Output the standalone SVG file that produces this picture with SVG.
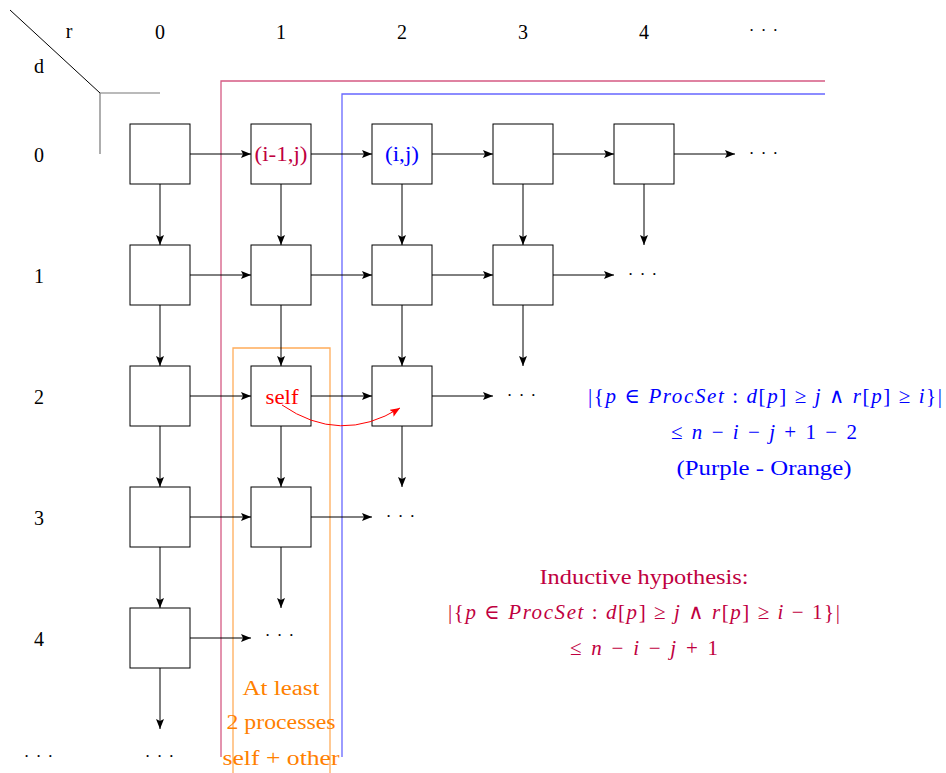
<svg xmlns="http://www.w3.org/2000/svg" width="946" height="773" viewBox="0 0 946 773">
<style>
text{font-family:"Liberation Serif","DejaVu Serif",serif;font-size:20px;text-anchor:middle;dominant-baseline:central;fill:#000}
text.m{font-size:21px}
.box{fill:#fff;stroke:#000;stroke-width:1}
.c{stroke:#000;stroke-width:1;fill:none;marker-end:url(#ah)}
text.dots{font-size:17px;letter-spacing:1px}
text.pur{fill:#BF0040}
text.blu{fill:#0000FF}
text.org{fill:#FF8000}
text.red{fill:#FF0000}
.it{font-style:italic}
</style>
<defs>
<marker id="ah" viewBox="0 0 10 8" refX="10" refY="4" markerWidth="10" markerHeight="8" markerUnits="userSpaceOnUse" orient="auto">
<path d="M0,0 L10,4 L0,8 L2,4 Z" fill="#000"/>
</marker>
<marker id="ahr" viewBox="0 0 10 8" refX="10" refY="4" markerWidth="10" markerHeight="8" markerUnits="userSpaceOnUse" orient="auto">
<path d="M0,0 L10,4 L0,8 L2,4 Z" fill="#FF0000"/>
</marker>
</defs>
<rect width="946" height="773" fill="#fff"/>
<g id="axes">
<line x1="10" y1="10" x2="100" y2="93" stroke="#000" stroke-width="1"/>
<line x1="100" y1="93" x2="160" y2="93" stroke="#777" stroke-width="1.2"/>
<line x1="100" y1="93" x2="100" y2="154" stroke="#777" stroke-width="1.2"/>
<text x="69" y="31">r</text>
<text x="39" y="66">d</text>
<text x="160" y="32">0</text><text x="281" y="32">1</text><text x="402" y="32">2</text><text x="523" y="32">3</text><text x="644" y="32">4</text>
<text class="dots" x="764" y="30">· · ·</text>
<text x="39" y="155">0</text><text x="39" y="276">1</text><text x="39" y="397">2</text><text x="39" y="518">3</text><text x="39" y="639">4</text>
<text class="dots" x="39" y="756">· · ·</text>
</g>
<g id="regions">
<path d="M221,757 V81 H825" fill="none" stroke="#BF0040" stroke-opacity="0.65" stroke-width="1.3"/>
<path d="M342,757 V94 H825" fill="none" stroke="#0000FF" stroke-opacity="0.6" stroke-width="1.3"/>
<path d="M233,773 V348 H330 V773" fill="none" stroke="#FF8000" stroke-opacity="0.65" stroke-width="1.3"/>
</g>
<g id="connectors">
<line class="c" x1="190" y1="154" x2="251" y2="154"/>
<line class="c" x1="311" y1="154" x2="372" y2="154"/>
<line class="c" x1="432" y1="154" x2="493" y2="154"/>
<line class="c" x1="553" y1="154" x2="614" y2="154"/>
<line class="c" x1="674" y1="154" x2="735" y2="154"/>
<line class="c" x1="190" y1="275" x2="251" y2="275"/>
<line class="c" x1="311" y1="275" x2="372" y2="275"/>
<line class="c" x1="432" y1="275" x2="493" y2="275"/>
<line class="c" x1="553" y1="275" x2="614" y2="275"/>
<line class="c" x1="190" y1="396" x2="251" y2="396"/>
<line class="c" x1="311" y1="396" x2="372" y2="396"/>
<line class="c" x1="432" y1="396" x2="493" y2="396"/>
<line class="c" x1="190" y1="517" x2="251" y2="517"/>
<line class="c" x1="311" y1="517" x2="372" y2="517"/>
<line class="c" x1="190" y1="638" x2="251" y2="638"/>
<line class="c" x1="160" y1="184" x2="160" y2="245"/>
<line class="c" x1="160" y1="305" x2="160" y2="366"/>
<line class="c" x1="160" y1="426" x2="160" y2="487"/>
<line class="c" x1="160" y1="547" x2="160" y2="608"/>
<line class="c" x1="160" y1="668" x2="160" y2="729"/>
<line class="c" x1="281" y1="184" x2="281" y2="245"/>
<line class="c" x1="281" y1="305" x2="281" y2="366"/>
<line class="c" x1="281" y1="426" x2="281" y2="487"/>
<line class="c" x1="281" y1="547" x2="281" y2="608"/>
<line class="c" x1="402" y1="184" x2="402" y2="245"/>
<line class="c" x1="402" y1="305" x2="402" y2="366"/>
<line class="c" x1="402" y1="426" x2="402" y2="487"/>
<line class="c" x1="523" y1="184" x2="523" y2="245"/>
<line class="c" x1="523" y1="305" x2="523" y2="366"/>
<line class="c" x1="644" y1="184" x2="644" y2="245"/>
</g>
<g id="n00"><rect class="box" x="130" y="124" width="60" height="60"/></g>
<g id="n10"><rect class="box" x="251" y="124" width="60" height="60"/><text class="pur" x="281" y="154" textLength="53" lengthAdjust="spacingAndGlyphs">(i-1,j)</text></g>
<g id="n20"><rect class="box" x="372" y="124" width="60" height="60"/><text class="blu" x="402" y="154" textLength="34" lengthAdjust="spacingAndGlyphs">(i,j)</text></g>
<g id="n30"><rect class="box" x="493" y="124" width="60" height="60"/></g>
<g id="n40"><rect class="box" x="614" y="124" width="60" height="60"/></g>
<g id="n01"><rect class="box" x="130" y="245" width="60" height="60"/></g>
<g id="n11"><rect class="box" x="251" y="245" width="60" height="60"/></g>
<g id="n21"><rect class="box" x="372" y="245" width="60" height="60"/></g>
<g id="n31"><rect class="box" x="493" y="245" width="60" height="60"/></g>
<g id="n02"><rect class="box" x="130" y="366" width="60" height="60"/></g>
<g id="n12"><rect class="box" x="251" y="366" width="60" height="60"/><text class="red" x="282" y="397" textLength="33" lengthAdjust="spacingAndGlyphs">self</text></g>
<g id="n22"><rect class="box" x="372" y="366" width="60" height="60"/></g>
<g id="n03"><rect class="box" x="130" y="487" width="60" height="60"/></g>
<g id="n13"><rect class="box" x="251" y="487" width="60" height="60"/></g>
<g id="n04"><rect class="box" x="130" y="608" width="60" height="60"/></g>
<g id="self-arrow">
<path d="M282,405 Q340,445 400,408" fill="none" stroke="#FF0000" stroke-width="1" marker-end="url(#ahr)"/>
</g>
<g id="dots">
<text class="dots" x="764" y="153">· · ·</text>
<text class="dots" x="643" y="274">· · ·</text>
<text class="dots" x="522" y="395">· · ·</text>
<text class="dots" x="401" y="516">· · ·</text>
<text class="dots" x="280" y="635">· · ·</text>
<text class="dots" x="160" y="756">· · ·</text>
</g>
<g id="orange-label">
<text class="org" x="281" y="688" textLength="77" lengthAdjust="spacingAndGlyphs">At least</text>
<text class="org" x="281" y="722" textLength="109" lengthAdjust="spacingAndGlyphs">2 processes</text>
<text class="org" x="281" y="758" textLength="117" lengthAdjust="spacingAndGlyphs">self + other</text>
</g>
<g id="blue-label">
<text class="blu m" x="765" y="396" textLength="354" lengthAdjust="spacing">|{<tspan class="it">p</tspan> ∈ <tspan class="it">ProcSet</tspan> : <tspan class="it">d</tspan>[<tspan class="it">p</tspan>] ≥ <tspan class="it">j</tspan> ∧ <tspan class="it">r</tspan>[<tspan class="it">p</tspan>] ≥ <tspan class="it">i</tspan>}|</text>
<text class="blu m" x="764" y="432" textLength="186" lengthAdjust="spacing">≤ <tspan class="it">n</tspan> − <tspan class="it">i</tspan> − <tspan class="it">j</tspan> + 1 − 2</text>
<text class="blu" x="764" y="468" textLength="175" lengthAdjust="spacingAndGlyphs">(Purple - Orange)</text>
</g>
<g id="purple-label">
<text class="pur" x="644" y="577" textLength="209" lengthAdjust="spacingAndGlyphs">Inductive hypothesis:</text>
<text class="pur m" x="644" y="612" textLength="392" lengthAdjust="spacing">|{<tspan class="it">p</tspan> ∈ <tspan class="it">ProcSet</tspan> : <tspan class="it">d</tspan>[<tspan class="it">p</tspan>] ≥ <tspan class="it">j</tspan> ∧ <tspan class="it">r</tspan>[<tspan class="it">p</tspan>] ≥ <tspan class="it">i</tspan> − 1}|</text>
<text class="pur m" x="644" y="648" textLength="148" lengthAdjust="spacing">≤ <tspan class="it">n</tspan> − <tspan class="it">i</tspan> − <tspan class="it">j</tspan> + 1</text>
</g>
</svg>
